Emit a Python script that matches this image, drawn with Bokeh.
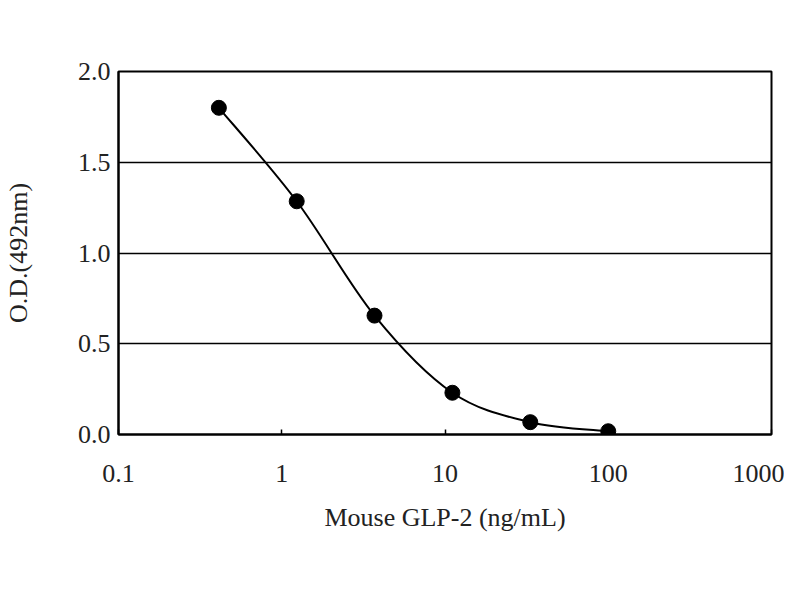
import numpy as np
from bokeh.plotting import figure
from bokeh.models import ColumnDataSource, FixedTicker, Range1d
from bokeh.embed import file_html
from bokeh.resources import INLINE

# standard curve values
conc = [0.412, 1.235, 3.70, 11.1, 33.3, 100.0]      # ng/mL
od = [1.80, 1.285, 0.655, 0.23, 0.068, 0.018]       # O.D. at 492 nm

x_ticks = [0.1, 1, 10, 100, 1000]
x_tick_labels = ["0.1", "1", "10", "100", "1000"]
y_ticks = [0.0, 0.5, 1.0, 1.5, 2.0]
y_tick_labels = ["0.0", "0.5", "1.0", "1.5", "2.0"]

FONT = "Liberation Serif"
TXT = "#222222"

# smooth line like a spreadsheet "smoothed line": bezier segments whose
# control points come from the neighbouring measured points (log-x space)
lx = np.log10(conc)
yy = np.array(od)
n = len(lx)
seg = dict(x0=[], y0=[], x1=[], y1=[], cx0=[], cy0=[], cx1=[], cy1=[])
for i in range(n - 1):
    a = max(i - 1, 0)
    b = min(i + 2, n - 1)
    c0x = lx[i] + (lx[i + 1] - lx[a]) / 6
    c0y = yy[i] + (yy[i + 1] - yy[a]) / 6
    c1x = lx[i + 1] - (lx[b] - lx[i]) / 6
    c1y = yy[i + 1] - (yy[b] - yy[i]) / 6
    seg["x0"].append(conc[i]); seg["y0"].append(od[i])
    seg["x1"].append(conc[i + 1]); seg["y1"].append(od[i + 1])
    seg["cx0"].append(10 ** c0x); seg["cy0"].append(c0y)
    seg["cx1"].append(10 ** c1x); seg["cy1"].append(c1y)
curve_src = ColumnDataSource(seg)
pts_src = ColumnDataSource(dict(x=conc, y=od))

p = figure(
    width=784, height=584,
    x_axis_type="log",
    x_range=Range1d(0.1, 1000), y_range=Range1d(0, 2.0),
    output_backend="svg", toolbar_location=None,
    min_border_left=108, min_border_top=71, min_border_right=13, min_border_bottom=150,
)
p.background_fill_color = "white"
p.border_fill_color = "white"
p.outline_line_color = "black"
p.outline_line_width = 2

p.bezier(x0="x0", y0="y0", x1="x1", y1="y1", cx0="cx0", cy0="cy0", cx1="cx1", cy1="cy1",
         source=curve_src, line_color="black", line_width=2)
p.scatter("x", "y", source=pts_src, size=15, color="black")

# grid
p.xgrid.visible = False
p.ygrid.ticker = FixedTicker(ticks=[0.5, 1.0, 1.5])
p.ygrid.grid_line_color = "black"
p.ygrid.grid_line_width = 1.5
p.ygrid.grid_line_alpha = 1.0

# x axis
xa = p.xaxis[0]
xa.ticker = FixedTicker(ticks=x_ticks, minor_ticks=[])
xa.major_label_overrides = dict(zip(x_ticks, x_tick_labels))
xa.major_tick_in = 5
xa.major_tick_out = 0
xa.minor_tick_line_color = None
xa.major_tick_line_width = 1.5
xa.axis_line_width = 2
xa.major_label_standoff = 30
xa.axis_label = "Mouse GLP-2 (ng/mL)"
xa.axis_label_standoff = 18

# y axis
ya = p.yaxis[0]
ya.ticker = FixedTicker(ticks=y_ticks, minor_ticks=[])
ya.major_label_overrides = dict(zip(y_ticks, y_tick_labels))
ya.major_tick_line_color = None
ya.minor_tick_line_color = None
ya.axis_line_width = 2
ya.major_label_standoff = 2
ya.axis_label = "O.D.(492nm)"
ya.axis_label_standoff = 42

for ax in (xa, ya):
    ax.major_label_text_font = FONT
    ax.major_label_text_font_size = "26px"
    ax.major_label_text_color = TXT
    ax.axis_label_text_font = FONT
    ax.axis_label_text_font_size = "26px"
    ax.axis_label_text_font_style = "normal"
    ax.axis_label_text_color = TXT

open("out.html", "w").write(file_html(p, INLINE))
